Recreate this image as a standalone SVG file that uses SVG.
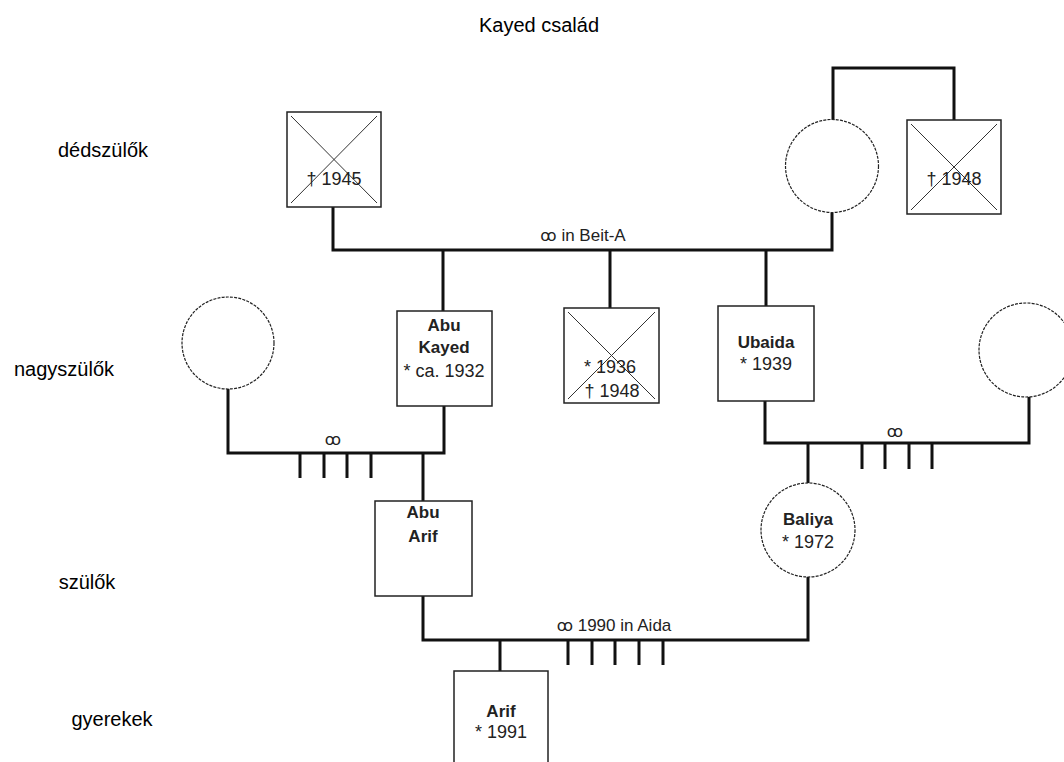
<svg xmlns="http://www.w3.org/2000/svg" width="1064" height="762" viewBox="0 0 1064 762">
<style>
.bg{fill:#fff}
.box{fill:#fff;stroke:#222;stroke-width:1.5}
.fem{fill:#fff;stroke:#222;stroke-width:1.2;stroke-dasharray:3 1.2}
.x{stroke:#333;stroke-width:1}
.ln{fill:none;stroke:#111;stroke-width:3}
.lbl{font-family:"Liberation Sans",Arial,sans-serif;font-size:20px;fill:#000}
.nm{font-family:"Liberation Sans",Arial,sans-serif;font-size:17px;font-weight:bold;fill:#222;text-anchor:middle}
.dt{font-family:"Liberation Sans",Arial,sans-serif;font-size:18px;fill:#222;text-anchor:middle}
.mr{font-family:"Liberation Sans",sans-serif;font-size:17px;fill:#222;text-anchor:middle}
.sym{font-family:"DejaVu Sans","Noto Sans",sans-serif;font-size:16px;fill:#222}
</style>
<rect class="bg" x="0" y="0" width="1064" height="762"/>
<text class="lbl" x="539" y="32" text-anchor="middle" font-size="19">Kayed család</text>
<g id="labels">
<text class="lbl" x="103" y="157" text-anchor="middle">dédszülők</text>
<text class="lbl" x="64" y="376" text-anchor="middle">nagyszülők</text>
<text class="lbl" x="87" y="589" text-anchor="middle">szülők</text>
<text class="lbl" x="112" y="726" text-anchor="middle">gyerekek</text>
</g>
<g id="connectors">
<path class="ln" d="M833 120 V68 H954 V120"/>
<path class="ln" d="M333 207 V250 H832 V213"/>
<path class="ln" d="M443 250 V311 M610 250 V308 M766 250 V306"/>
<path class="ln" d="M228 389 V453 H444 V406"/>
<path class="ln" d="M300 453 V478 M324 453 V478 M347 453 V478 M371 453 V478"/>
<path class="ln" d="M423 453 V501"/>
<path class="ln" d="M765 401 V443 H1029 V397"/>
<path class="ln" d="M862 443 V469 M885 443 V469 M909 443 V469 M932 443 V469"/>
<path class="ln" d="M808 443 V483"/>
<path class="ln" d="M423 596 V640 H808 V577"/>
<path class="ln" d="M568 640 V665 M592 640 V665 M615 640 V665 M639 640 V665 M663 640 V665"/>
<path class="ln" d="M500 640 V671"/>
<text class="mr" x="583" y="241"><tspan class="sym">ꝏ</tspan> in Beit-A</text>
<text class="mr" x="333" y="445"><tspan class="sym">ꝏ</tspan></text>
<text class="mr" x="895" y="437"><tspan class="sym">ꝏ</tspan></text>
<text class="mr" x="614" y="631"><tspan class="sym">ꝏ</tspan> 1990 in Aida</text>
</g>
<g id="n1945">
<rect class="box" x="287" y="112" width="94" height="95"/>
<path class="x" d="M291 116 L377 203 M377 116 L291 203"/>
<text class="dt" x="334" y="185">† 1945</text>
</g>
<g id="ggm">
<circle class="fem" cx="832" cy="166" r="46.5"/>
</g>
<g id="n1948">
<rect class="box" x="907" y="120" width="94" height="94"/>
<path class="x" d="M911 124 L997 210 M997 124 L911 210"/>
<text class="dt" x="954" y="185">† 1948</text>
</g>
<g id="abukayed">
<rect class="box" x="397" y="311" width="95" height="95"/>
<text class="nm" x="444" y="331">Abu</text>
<text class="nm" x="444" y="353">Kayed</text>
<text class="dt" x="444" y="377">* ca. 1932</text>
</g>
<g id="n1936">
<rect class="box" x="564" y="308" width="95" height="95"/>
<path class="x" d="M568 312 L655 399 M655 312 L568 399"/>
<text class="dt" x="610" y="373">* 1936</text>
<text class="dt" x="612" y="397">† 1948</text>
</g>
<g id="ubaida">
<rect class="box" x="718" y="306" width="96" height="95"/>
<text class="nm" x="766" y="348">Ubaida</text>
<text class="dt" x="766" y="370">* 1939</text>
</g>
<g id="gm-left">
<circle class="fem" cx="228" cy="343" r="46"/>
</g>
<g id="gm-right">
<circle class="fem" cx="1026" cy="350" r="47"/>
</g>
<g id="abuarif">
<rect class="box" x="375" y="501" width="97" height="95"/>
<text class="nm" x="423" y="518">Abu</text>
<text class="nm" x="423" y="542">Arif</text>
</g>
<g id="baliya">
<circle class="fem" cx="808" cy="530" r="47"/>
<text class="nm" x="808" y="525">Baliya</text>
<text class="dt" x="808" y="548">* 1972</text>
</g>
<g id="arif">
<rect class="box" x="454" y="671" width="94" height="100"/>
<text class="nm" x="501" y="717">Arif</text>
<text class="dt" x="501" y="738">* 1991</text>
</g>
</svg>
